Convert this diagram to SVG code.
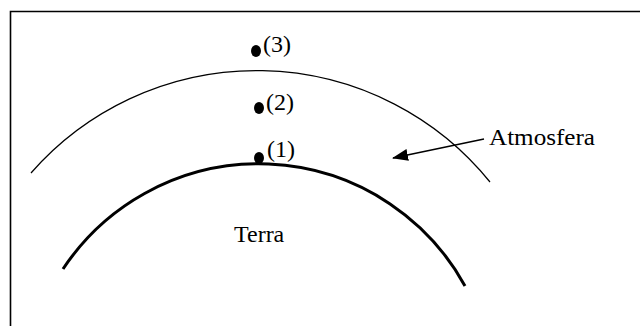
<svg xmlns="http://www.w3.org/2000/svg" width="640" height="326" viewBox="0 0 640 326">
<style>
.lbl{font-family:"Liberation Serif","Tinos","Times New Roman","DejaVu Serif",serif;font-size:24px;fill:#000}
.thin{fill:none;stroke:#000;stroke-width:1.2}
.thick{fill:none;stroke:#000;stroke-width:3}
.dot{fill:#000}
</style>
<defs>
<marker id="ah" markerWidth="16" markerHeight="12" refX="15" refY="6" orient="auto" markerUnits="userSpaceOnUse">
<path d="M0,0 L16,6 L0,12 Z" fill="#000"/>
</marker>
</defs>
<rect width="640" height="326" fill="#fff"/>
<path d="M10.5,330 V11.5 H645" fill="none" stroke="#000" stroke-width="1.6"/>
<g id="atmosfera-arc">
<path class="thin" d="M31,173 A300,300 0 0 1 490,182"/>
</g>
<g id="terra-arc">
<path class="thick" d="M63,269 A235,235 0 0 1 465,286"/>
</g>
<g id="p3">
<ellipse class="dot" cx="256" cy="51" rx="5" ry="6"/>
<text class="lbl" x="263" y="52">(3)</text>
</g>
<g id="p2">
<ellipse class="dot" cx="259" cy="108" rx="5" ry="6"/>
<text class="lbl" x="266" y="110">(2)</text>
</g>
<g id="p1">
<ellipse class="dot" cx="259" cy="158" rx="5" ry="6"/>
<text class="lbl" x="267" y="157">(1)</text>
</g>
<g id="terra">
<text class="lbl" x="234" y="242">Terra</text>
</g>
<g id="atmosfera">
<text class="lbl" x="489" y="145" textLength="106" lengthAdjust="spacingAndGlyphs">Atmosfera</text>
</g>
<g id="connectors">
<line x1="484" y1="139" x2="393" y2="158" stroke="#000" stroke-width="1.5" marker-end="url(#ah)"/>
</g>
</svg>
